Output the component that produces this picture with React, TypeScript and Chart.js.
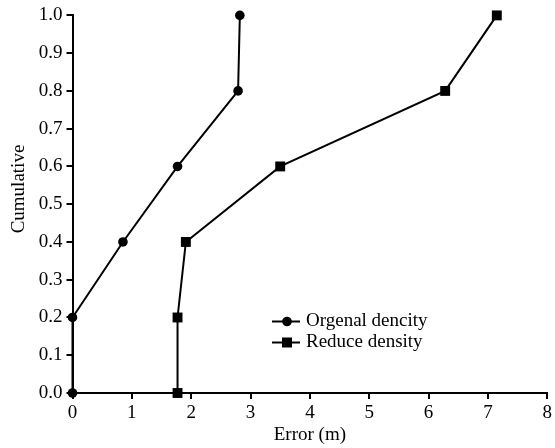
import React, { useEffect, useRef } from "react";
import { Chart, registerables } from "chart.js";

Chart.register(...registerables);

const seriesNames = ["Orgenal dencity", "Reduce density"];
const cumulative = [0.0, 0.2, 0.4, 0.6, 0.8, 1.0];
const orgenalError = [0.0, 0.0, 0.85, 1.77, 2.79, 2.82];
const reduceError = [1.77, 1.77, 1.91, 3.5, 6.28, 7.15];
const xTicks = [0, 1, 2, 3, 4, 5, 6, 7, 8];
const yTicks = [0.0, 0.1, 0.2, 0.3, 0.4, 0.5, 0.6, 0.7, 0.8, 0.9, 1.0];
const xTitle = "Error (m)";
const yTitle = "Cumulative";

const FONT = "'Liberation Serif', 'Times New Roman', serif";
const FS = 19;

const overlayPlugin = {
  id: "overlay",
  afterDraw(chart: any) {
    const ctx = chart.ctx;
    const rows = [321.5, 342.5];
    ctx.save();
    chart.data.datasets.forEach((ds: any, i: number) => {
      const y = rows[i];
      ctx.strokeStyle = "#000";
      ctx.lineWidth = 2;
      ctx.beginPath();
      ctx.moveTo(272, y);
      ctx.lineTo(300, y);
      ctx.stroke();
      ctx.fillStyle = "#000";
      ctx.beginPath();
      if (ds.pointStyle === "rect") {
        ctx.rect(287 - 5, y - 5, 10, 10);
      } else {
        ctx.arc(287, y, 4.8, 0, Math.PI * 2);
      }
      ctx.fill();
      ctx.font = `${FS}px ${FONT}`;
      ctx.textBaseline = "middle";
      ctx.textAlign = "left";
      ctx.fillText(ds.label, 306, y);
    });
    // y-axis title
    ctx.translate(19, 189);
    ctx.rotate(-Math.PI / 2);
    ctx.font = `${FS}px ${FONT}`;
    ctx.textAlign = "center";
    ctx.textBaseline = "middle";
    ctx.fillStyle = "#000";
    ctx.fillText(yTitle, 0, 0);
    ctx.restore();
  },
};

export default function App() {
  const ref = useRef<HTMLCanvasElement>(null);
  useEffect(() => {
    if (!ref.current) return;
    const chart = new Chart(ref.current, {
      type: "line",
      data: {
        datasets: [
          {
            label: seriesNames[0],
            data: orgenalError.map((x, i) => ({ x, y: cumulative[i] })),
            borderColor: "#000",
            backgroundColor: "#000",
            borderWidth: 2,
            pointStyle: "circle",
            pointRadius: 4.8,
            pointBorderWidth: 0,
            clip: false as any,
          },
          {
            label: seriesNames[1],
            data: reduceError.map((x, i) => ({ x, y: cumulative[i] })),
            borderColor: "#000",
            backgroundColor: "#000",
            borderWidth: 2,
            pointStyle: "rect",
            pointRadius: 7,
            pointBorderWidth: 0,
            clip: false as any,
          },
        ],
      },
      options: {
        animation: false,
        responsive: false,
        layout: { padding: { top: 15, right: 7, left: 0, bottom: 0 } },
        plugins: { legend: { display: false }, tooltip: { enabled: false } },
        scales: {
          x: {
            type: "linear",
            min: xTicks[0],
            max: xTicks[xTicks.length - 1],
            afterBuildTicks: (s: any) => {
              s.ticks = xTicks.map((v) => ({ value: v }));
            },
            afterFit: (s: any) => {
              s.height = 55;
            },
            ticks: {
              color: "#000",
              font: { family: FONT, size: FS },
              padding: 3,
              maxRotation: 0,
              callback: (v: any) => String(v),
            },
            grid: {
              display: true,
              drawOnChartArea: false,
              drawTicks: true,
              tickLength: 6,
              color: "#000",
              lineWidth: 2,
            },
            border: { display: true, color: "#000", width: 2 },
            title: {
              display: true,
              text: xTitle,
              color: "#000",
              font: { family: FONT, size: FS },
              padding: { top: 0, bottom: 2 },
            },
          },
          y: {
            type: "linear",
            min: yTicks[0],
            max: yTicks[yTicks.length - 1],
            afterBuildTicks: (s: any) => {
              s.ticks = yTicks.map((v) => ({ value: v }));
            },
            afterFit: (s: any) => {
              s.width = 72.5;
            },
            ticks: {
              color: "#000",
              font: { family: FONT, size: FS },
              padding: 4,
              callback: (v: any) => Number(v).toFixed(1),
            },
            grid: {
              display: true,
              drawOnChartArea: false,
              drawTicks: true,
              tickLength: 6,
              color: "#000",
              lineWidth: 2,
            },
            border: { display: true, color: "#000", width: 2 },
            title: { display: false },
          },
        },
      },
      plugins: [overlayPlugin],
    });
    return () => chart.destroy();
  }, []);
  return (
    <div style={{ position: "absolute", left: 0, top: 0, width: 555, height: 448, background: "#fff" }}>
      <canvas ref={ref} width={555} height={448} />
    </div>
  );
}
